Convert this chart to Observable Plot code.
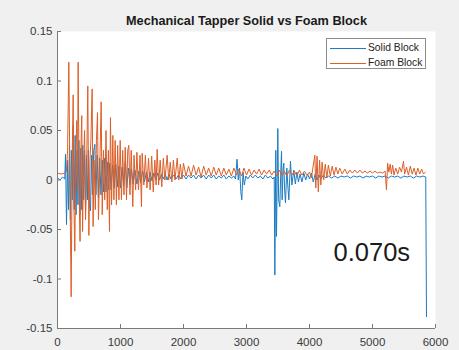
<!DOCTYPE html>
<html>
<head>
<meta charset="utf-8">
<script src="https://cdn.jsdelivr.net/npm/d3@7"></script>
<script src="https://cdn.jsdelivr.net/npm/@observablehq/plot@0.6"></script>
<style>
  html, body { margin: 0; padding: 0; background: #f0f0f0; }
  #wrap { position: relative; width: 459px; height: 350px; overflow: hidden; }
  #legend { position: absolute; left: 326px; top: 38px; width: 100px; height: 31px;
            border: 1px solid #8c8c8c; background: #fff; box-sizing: border-box;
            font-family: "Liberation Sans", Arial, sans-serif; font-size: 10.3px; color: #222; }
  .lrow { position: absolute; left: 0; height: 12px; }
  .lline { position: absolute; left: 3px; width: 36px; top: 6px; height: 0; border-top: 1px solid; }
  .ltext { position: absolute; left: 41px; top: 0; line-height: 12px; white-space: nowrap; }
</style>
</head>
<body>
<div id="wrap"><div id="legend"></div></div>
<script>
const title = "Mechanical Tapper Solid vs Foam Block";
const seriesNames = ["Solid Block", "Foam Block"];
const seriesColors = ["#1a7cc4", "#dc5f28"];
const xTicks = [0, 1000, 2000, 3000, 4000, 5000, 6000];
const yTicks = [-0.15, -0.1, -0.05, 0, 0.05, 0.1, 0.15];
const annotation = "0.070s";

// Solid Block: [sample, amplitude]
const solid = [
[0,0.002],[40,0.0],[80,0.003],[115,0.001],[127,0.026],[143,-0.045],[160,0.02],[175,-0.03],[190,0.035],[205,-0.04],
[220,0.03],[235,-0.02],[250,0.055],[265,-0.03],[280,0.045],[295,-0.035],[310,0.03],[325,-0.025],[340,0.04],[355,-0.035],
[370,0.032],[385,-0.03],[400,0.035],[415,-0.02],[430,0.03],[445,-0.032],[460,0.025],[475,-0.02],[490,0.03],[505,-0.025],
[524,-0.031],[540,0.025],[555,-0.015],[575,0.03],[593,0.036],[610,-0.015],[630,0.025],[650,-0.018],[670,0.022],[690,-0.015],
[710,0.02],[730,-0.012],[750,0.022],[770,-0.012],[790,0.018],[810,-0.01],[830,0.017],[850,-0.01],[875,0.015],[900,-0.008],
[925,0.016],[950,-0.007],[975,0.014],[1000,-0.008],[1025,0.013],[1050,-0.006],[1079,0.019],[1100,-0.008],[1125,0.012],[1150,-0.005],
[1175,0.011],[1200,-0.004],[1230,0.01],[1260,-0.004],[1290,0.009],[1320,-0.003],[1350,0.009],[1380,-0.002],[1410,0.008],[1440,-0.002],
[1470,0.008],[1500,-0.001],[1530,0.007],[1560,0.0],[1590,0.007],[1620,0.0],[1650,0.006],[1680,0.001],[1710,0.006],[1740,0.0],
[1770,0.006],[1800,0.001],[1840,0.005],[1880,0.001],[1920,0.005],[1960,0.001],[2000,0.005],[2040,0.001],[2080,0.005],[2120,0.002],
[2160,0.005],[2200,0.001],[2240,0.005],[2280,0.002],[2320,0.005],[2360,0.001],[2400,0.005],[2440,0.002],[2480,0.005],[2520,0.001],
[2560,0.004],[2600,0.002],[2640,0.005],[2680,0.001],[2720,0.004],[2760,0.002],[2800,0.004],[2825,0.001],[2850,0.021],[2870,0.0],
[2890,0.012],[2910,-0.012],[2925,-0.02],[2945,0.008],[2965,-0.005],[2990,0.004],[3020,0.001],[3060,0.005],[3100,0.002],[3140,0.005],
[3180,0.002],[3220,0.004],[3260,0.001],[3300,0.005],[3340,0.002],[3380,0.004],[3420,0.001],[3440,0.003],[3450,-0.096],[3465,0.03],
[3476,-0.057],[3497,0.052],[3510,-0.02],[3529,-0.027],[3545,0.01],[3556,0.029],[3566,-0.02],[3580,0.01],[3592,0.017],[3605,-0.01],
[3619,-0.023],[3640,0.012],[3655,-0.005],[3672,-0.02],[3698,0.019],[3720,-0.005],[3751,0.01],[3775,-0.004],[3800,0.008],[3825,-0.002],
[3850,0.006],[3880,-0.002],[3910,0.007],[3940,0.0],[3970,0.006],[4000,0.001],[4030,0.007],[4060,-0.002],[4090,0.006],[4120,0.0],
[4150,0.005],[4180,0.001],[4220,0.005],[4260,0.002],[4300,0.004],[4350,0.002],[4400,0.004],[4450,0.002],[4500,0.004],[4550,0.003],
[4600,0.004],[4650,0.002],[4700,0.004],[4750,0.003],[4800,0.004],[4850,0.002],[4900,0.004],[4950,0.003],[5000,0.004],[5050,0.002],
[5100,0.004],[5150,0.003],[5200,0.004],[5250,0.002],[5300,0.004],[5350,0.003],[5400,0.004],[5450,0.002],[5500,0.004],[5550,0.003],
[5600,0.004],[5650,0.002],[5700,0.004],[5750,0.003],[5800,0.004],[5845,0.003],[5857,-0.138]
];

// Foam Block: [sample, amplitude]
const foam = [
[0,0.007],[60,0.006],[110,0.007],[140,0.008],[160,0.03],[180,0.119],[200,-0.02],[217,-0.118],[233,0.02],[249,0.086],
[262,-0.03],[275,-0.072],[290,0.02],[305,0.06],[316,-0.01],[328,0.119],[345,-0.02],[358,-0.062],[372,0.03],[385,0.065],
[398,-0.052],[415,0.02],[430,0.05],[445,-0.04],[462,0.01],[481,0.095],[498,-0.056],[515,0.02],[530,0.04],[550,0.092],
[565,-0.047],[580,0.02],[600,-0.03],[618,0.04],[635,0.068],[650,-0.04],[670,0.01],[693,0.079],[710,-0.035],[730,0.03],
[750,-0.02],[770,0.05],[790,-0.03],[808,0.03],[825,-0.052],[841,0.063],[858,-0.025],[878,0.045],[895,-0.02],[915,0.04],
[935,-0.025],[955,0.035],[975,-0.02],[995,0.04],[1015,-0.02],[1035,0.03],[1055,-0.015],[1075,0.033],[1095,-0.02],[1115,0.03],
[1132,0.035],[1150,-0.015],[1170,0.03],[1195,-0.027],[1215,0.025],[1240,-0.01],[1260,0.028],[1285,-0.01],[1310,0.025],[1333,-0.027],
[1344,0.027],[1370,-0.005],[1395,0.025],[1420,-0.008],[1445,0.022],[1470,-0.01],[1495,0.024],[1520,-0.012],[1545,0.02],[1565,-0.005],
[1582,0.031],[1605,-0.005],[1630,0.02],[1655,-0.007],[1680,0.022],[1705,0.0],[1741,0.025],[1765,0.0],[1790,0.018],[1815,-0.002],
[1840,0.02],[1865,0.0],[1900,0.022],[1925,0.0],[1950,0.016],[1975,0.001],[2000,0.017],[2040,0.004],[2080,0.014],[2120,0.004],
[2160,0.015],[2200,0.005],[2240,0.013],[2280,0.003],[2320,0.014],[2360,0.005],[2400,0.012],[2440,0.004],[2480,0.013],[2520,0.005],
[2560,0.012],[2600,0.004],[2640,0.012],[2680,0.005],[2720,0.011],[2760,0.004],[2800,0.012],[2840,0.005],[2880,0.011],[2920,0.004],
[2960,0.012],[3000,0.005],[3040,0.011],[3080,0.005],[3120,0.01],[3160,0.006],[3200,0.011],[3240,0.005],[3280,0.01],[3320,0.006],
[3360,0.01],[3400,0.005],[3440,0.009],[3480,0.004],[3520,0.01],[3560,0.005],[3600,0.009],[3640,0.004],[3680,0.01],[3720,0.005],
[3760,0.009],[3800,0.004],[3840,0.01],[3880,0.005],[3920,0.009],[3960,0.005],[4000,0.008],[4030,0.002],[4060,0.015],[4085,0.025],
[4100,-0.008],[4120,0.024],[4140,-0.012],[4160,0.02],[4180,-0.005],[4200,0.018],[4225,0.0],[4250,0.016],[4275,0.002],[4300,0.015],
[4330,0.004],[4360,0.014],[4390,0.005],[4420,0.013],[4450,0.006],[4480,0.012],[4520,0.006],[4560,0.011],[4600,0.006],[4640,0.01],
[4680,0.007],[4720,0.01],[4760,0.007],[4800,0.01],[4840,0.007],[4880,0.009],[4920,0.007],[4960,0.009],[5000,0.007],[5040,0.009],
[5080,0.007],[5120,0.008],[5160,0.007],[5200,0.009],[5222,-0.01],[5240,0.017],[5260,0.008],[5280,0.016],[5300,0.006],[5320,0.015],
[5340,0.005],[5370,0.012],[5400,0.006],[5430,0.013],[5460,0.008],[5492,0.019],[5510,0.006],[5540,0.013],[5570,0.005],[5600,0.014],
[5630,0.006],[5660,0.012],[5690,0.005],[5720,0.012],[5750,0.006],[5780,0.011],[5810,0.006],[5840,0.008]
];

const fmt = d => d === 0 ? "0" : String(+d.toFixed(2));
const font = "'Liberation Sans', Arial, sans-serif";
const axisColor = "#7a7a7a";

const chart = Plot.plot({
  width: 459, height: 350,
  marginLeft: 57, marginRight: 24, marginTop: 31, marginBottom: 22,
  style: { background: "transparent", fontFamily: font, fontSize: "11.5px", color: "#3a3a3a", overflow: "visible" },
  x: { domain: [0, 6000], ticks: xTicks, tickSize: 0, tickPadding: 9, label: null, tickFormat: fmt },
  y: { domain: [-0.15, 0.15], ticks: yTicks, tickSize: 0, tickPadding: 5, label: null, tickFormat: fmt },
  marks: [
    Plot.frame({ fill: "white", stroke: null }),
    Plot.line(solid, { x: d => d[0], y: d => d[1], stroke: seriesColors[0], strokeWidth: 1 }),
    Plot.line(foam, { x: d => d[0], y: d => d[1], stroke: seriesColors[1], strokeWidth: 1 }),
    Plot.ruleX([0], { stroke: axisColor }),
    Plot.ruleY([-0.15], { stroke: axisColor }),
    Plot.tickY(yTicks, { y: d => d, stroke: axisColor, insetRight: 374 }),
    Plot.tickX(xTicks, { x: d => d, stroke: axisColor, insetTop: 293 }),
    Plot.text([title], { frameAnchor: "top", dy: -7, lineAnchor: "bottom", fontWeight: "bold", fontSize: 12.7, fill: "#1a1a1a" }),
    Plot.text([annotation], { x: 4381, y: -0.082, textAnchor: "start", lineAnchor: "bottom", fontSize: 25.5, fill: "#1a1a1a" })
  ]
});
document.getElementById("wrap").prepend(chart);

const legend = document.getElementById("legend");
seriesNames.forEach((name, i) => {
  const row = document.createElement("div");
  row.className = "lrow";
  row.style.top = (2.5 + i * 15.6) + "px";
  row.innerHTML = `<div class="lline" style="border-color:${seriesColors[i]}"></div><div class="ltext">${name}</div>`;
  legend.appendChild(row);
});
</script>
</body>
</html>
